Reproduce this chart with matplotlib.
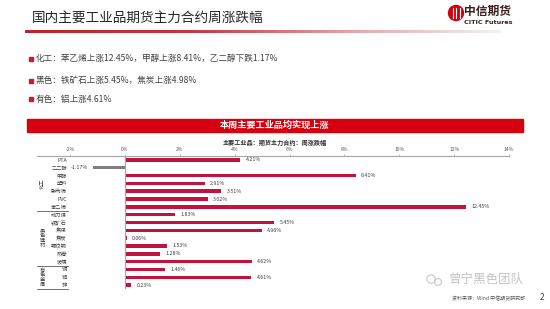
import matplotlib
matplotlib.use("Agg")
import matplotlib.pyplot as plt
import numpy as np
from matplotlib.colors import LinearSegmentedColormap
from matplotlib.patches import Rectangle, Circle

plt.rcParams['font.family'] = ['Noto Sans CJK SC', 'DejaVu Sans']

# ---- data ----
categories = ["PTA", "乙二醇", "甲醇", "塑料", "聚丙烯", "PVC", "苯乙烯",
              "动力煤", "铁矿石", "焦煤", "焦炭", "螺纹钢", "热卷", "玻璃",
              "铜", "铝", "锌"]
values = [4.21, -1.17, 8.41, 2.91, 3.51, 3.02, 12.45,
          1.83, 5.45, 4.98, 0.06, 1.53, 1.28, 4.62,
          1.46, 4.61, 0.23]
groups = ["化工", "黑色建材", "有色金属"]
group_sizes = [7, 7, 3]
x_ticks = [-2, 0, 2, 4, 6, 8, 10, 12, 14]
tick_labels = ["-2%", "0%", "2%", "4%", "6%", "8%", "10%", "12%", "14%"]

title = "国内主要工业品期货主力合约周涨跌幅"
bullets = ["化工：苯乙烯上涨12.45%，甲醇上涨8.41%，乙二醇下跌1.17%",
           "黑色：铁矿石上涨5.45%，焦炭上涨4.98%",
           "有色：铝上涨4.61%"]
banner = "本周主要工业品均实现上涨"
subtitle = "主要工业品：期货主力合约：周涨跌幅"
source = "资料来源：Wind 中信期货研究部"

W, H = 550, 309
fig = plt.figure(figsize=(W / 100, H / 100), dpi=100)
fig.patch.set_facecolor("white")

# overlay in pixel coordinates for slide decorations
ov = fig.add_axes([0, 0, 1, 1], zorder=0)
ov.set_xlim(0, W)
ov.set_ylim(H, 0)
ov.axis("off")

# title
ov.text(32, 18, title, fontsize=9.8, color="#262626", va="center", ha="left")

# gradient rule under title
cmap = LinearSegmentedColormap.from_list(
    "rule", [(0, "#C0202A"), (0.35, "#C8363E"), (0.7, "#E3AAAD"), (1, "#F2F2F2")])
grad = np.linspace(0, 1, 300).reshape(1, -1)
ov.imshow(grad, cmap=cmap, aspect="auto", extent=[25, 502, 33.5, 30.5], zorder=1)

# logo
ov.add_patch(Circle((456, 13), 7.5, color="#D7000F", zorder=2))
for dx in (-3.5, 0, 3.5):
    ov.plot([456 + dx, 456 + dx], [8, 18], color="white", lw=0.8, zorder=3)
ov.text(464, 11, "中信期货", fontsize=8.5, fontweight="bold", color="#3A1F1F",
        va="center", ha="left")
ov.text(464, 22.5, "CITIC Futures", fontsize=4.6, fontweight="bold", color="#3A1F1F",
        va="center", ha="left", family=["DejaVu Sans"])

# bullets
for yb, t in zip([58.5, 80.5, 99], bullets):
    ov.add_patch(Rectangle((28.5, yb - 2), 4, 4, color="#C0202A"))
    ov.text(36, yb, t, fontsize=6.2, color="#404040", va="center", ha="left")

# banner
ov.add_patch(Rectangle((27, 119), 496, 13, color="#D7000F"))
ov.text(275, 125.5, banner, fontsize=6.6, fontweight="bold", color="white",
        va="center", ha="center")
ov.text(275, 142, subtitle, fontsize=4.4, fontweight="bold", color="#333333",
        va="center", ha="center")

# watermark + source + page number
ov.add_patch(Circle((431, 279), 4.2, fill=False, ec="#C8C8C8", lw=0.8))
ov.add_patch(Circle((438, 282), 3.4, fill=False, ec="#C8C8C8", lw=0.8))
ov.text(448, 279, "曾宁黑色团队", fontsize=9, color="#C4C4C4", va="center", ha="left")
ov.text(452, 298.5, source, fontsize=3.6, color="#595959", va="center", ha="left")
ov.text(542, 298, "2", fontsize=6, color="#404040", va="center", ha="center")

# ---- main chart ----
x0, x1 = 70, 509
ytop, ybot = 156, 289
ax = fig.add_axes([x0 / W, 1 - ybot / H, (x1 - x0) / W, (ybot - ytop) / H], zorder=2)
ax.patch.set_alpha(0)
n = len(categories)
ypos = np.arange(n)
colors = ["#7F7F7F" if v < 0 else "#C0143C" for v in values]
ax.barh(ypos, values, height=0.44, color=colors, zorder=3)
ax.set_xlim(x_ticks[0], x_ticks[-1])
ax.set_ylim(n - 0.5, -0.5)

ax.xaxis.tick_top()
ax.set_xticks(x_ticks, labels=tick_labels)
ax.tick_params(axis="x", labelsize=3.6, labelcolor="#595959", length=1.5,
               width=0.5, color="#A6A6A6", pad=1.5)
ax.set_yticks(ypos, labels=categories)
ax.tick_params(axis="y", labelsize=3.8, labelcolor="#404040", length=0, pad=2.3)
for s in ("left", "right", "bottom"):
    ax.spines[s].set_visible(False)
ax.spines["top"].set_color("#A6A6A6")
ax.spines["top"].set_linewidth(0.8)
ax.axvline(0, color="#A6A6A6", lw=0.8, zorder=4)

for y, v in zip(ypos, values):
    if v < 0:
        ax.annotate(f"{v:.2f}%", (v, y), xytext=(-3.5, 0), textcoords="offset points",
                    ha="right", va="center", fontsize=3.8, color="#404040")
    else:
        ax.annotate(f"{v:.2f}%", (v, y), xytext=(3.8, 0), textcoords="offset points",
                    ha="left", va="center", fontsize=3.8, color="#404040")

# category group table on the left
px = (x_ticks[-1] - x_ticks[0]) / (x1 - x0)
xl = x_ticks[0] - 33 * px
xr = x_ticks[0] - 2 * px
xg = x_ticks[0] - 28 * px
ax.plot([xl, x_ticks[0]], [-0.5, -0.5], color="#A6A6A6", lw=0.8, clip_on=False)
start = 0
for i, (g, sz) in enumerate(zip(groups, group_sizes)):
    end = start + sz
    center = (start + end - 1) / 2
    if i == 0:
        ax.text(xg, center, g, rotation=90, fontsize=3.8, color="#404040",
                ha="center", va="center", clip_on=False)
    else:
        ax.text(xg, center, "\n".join(g), fontsize=3.8, color="#404040",
                ha="center", va="center", linespacing=0.95, clip_on=False)
    ax.plot([xl, xr], [end - 0.5, end - 0.5], color="#595959", lw=0.6, clip_on=False)
    start = end

fig.savefig("out.png", dpi=100)
